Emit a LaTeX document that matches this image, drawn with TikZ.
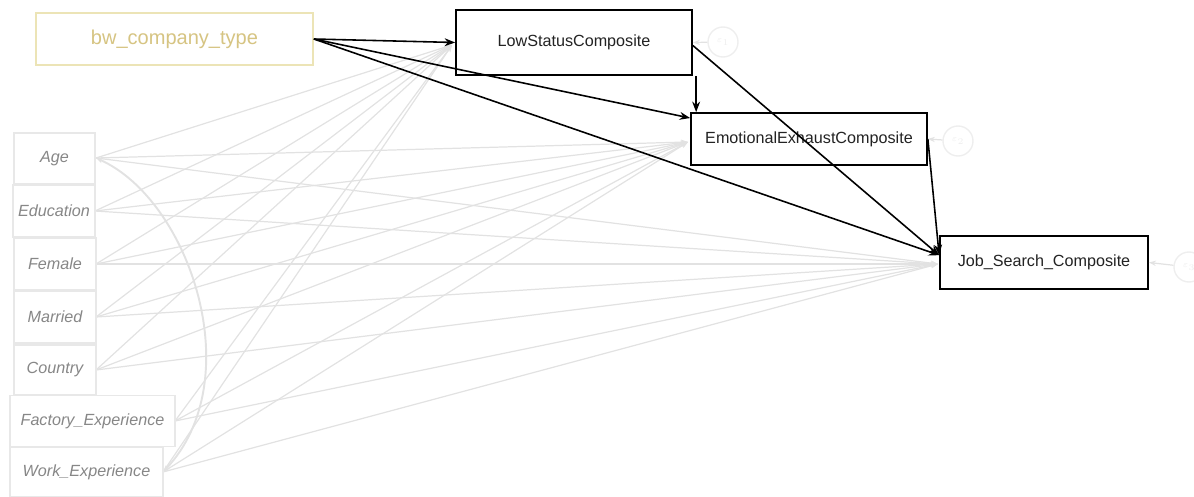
\documentclass[tikz,border=0pt]{standalone}
\usepackage{fontspec}
\setmainfont{Liberation Sans}
\usetikzlibrary{arrows.meta,calc}
\definecolor{pathgrey}{RGB}{226,226,226}
\definecolor{boxgrey}{RGB}{232,232,232}
\definecolor{txtgrey}{RGB}{135,135,135}
\definecolor{goldline}{RGB}{236,228,182}
\definecolor{goldtxt}{RGB}{214,196,130}
\definecolor{errgrey}{RGB}{238,238,238}
\tikzset{
  exobox/.style={draw=boxgrey, line width=0.6pt, fill=white, font=\fontsize{9.2}{10}\selectfont\itshape, text=txtgrey, inner sep=0pt},
  endobox/.style={draw=black, line width=1pt, fill=white, font=\fontsize{9.2}{10}\selectfont, text={rgb,255:red,35;green,35;blue,35}, inner sep=0pt},
  treatbox/.style={draw=goldline, line width=1pt, fill=white, font=\fontsize{11.4}{13}\selectfont, text=goldtxt, inner sep=0pt},
  errcirc/.style={circle, draw=errgrey, line width=0.8pt, minimum size=0.6cm, inner sep=0pt, font=\fontsize{4}{5}\selectfont, text=errgrey},
  greypath/.style={draw=pathgrey, line width=0.7pt, -{Stealth[length=4pt,width=3pt]}},
  blackpath/.style={draw=black, line width=0.9pt, -{Stealth[length=6pt,width=4.5pt]}},
}
\begin{document}
\begin{tikzpicture}[x=0.02cm,y=-0.02cm]
\useasboundingbox (0,0) rectangle (1194,497);
% error circles
\node[errcirc] (e1) at (723,42) {$\varepsilon_1$};
\node[errcirc] (e2) at (958,141) {$\varepsilon_2$};
\node[errcirc] (e3) at (1189,267) {$\varepsilon_3$};
% grey paths (drawn first)
\coordinate (lowin) at (452,45);
\coordinate (emoin) at (688,142);
\coordinate (jobin) at (938,264);
\foreach \n/\x/\y in {age/96/158, edu/95/211, fem/96/264, mar/96/317, cou/96/370, fac/175/421, work/163/472}{
  \coordinate (\n out) at (\x,\y);
}
\foreach \n in {age,edu,fem,mar,cou,fac,work}{
  \draw[greypath] (\n out) -- (lowin);
  \draw[greypath] (\n out) -- (emoin);
  \draw[greypath] (\n out) -- (jobin);
}
% covariance arc
\draw[draw=pathgrey, line width=1.1pt, {Stealth[length=4pt,width=3pt]}-{Stealth[length=4pt,width=3pt]}] (ageout) .. controls (190,200) and (250,380) .. (workout);
% nodes
\node[treatbox, minimum width=5.54cm, minimum height=1.04cm] (bw) at (174.5,39) {bw\_company\_type};
\node[endobox, minimum width=4.72cm, minimum height=1.3cm] (low) at (574,42.5) {LowStatusComposite};
\node[endobox, minimum width=4.72cm, minimum height=1.04cm] (emo) at (809,139) {EmotionalExhaustComposite};
\node[endobox, minimum width=4.16cm, minimum height=1.06cm] (job) at (1044,262.5) {Job\_Search\_Composite};
\node[exobox, minimum width=1.62cm, minimum height=1.02cm] (age) at (54.5,158.5) {Age};
\node[exobox, minimum width=1.64cm, minimum height=1.04cm] (edu) at (54,211) {Education};
\node[exobox, minimum width=1.64cm, minimum height=1.04cm] (fem) at (55,264) {Female};
\node[exobox, minimum width=1.64cm, minimum height=1.04cm] (mar) at (55,317) {Married};
\node[exobox, minimum width=1.64cm, minimum height=1.0cm] (cou) at (55,370) {Country};
\node[exobox, minimum width=3.3cm, minimum height=1.02cm] (fac) at (92.5,421) {Factory\_Experience};
\node[exobox, minimum width=3.06cm, minimum height=1.0cm] (work) at (86.5,472) {Work\_Experience};
% error arrows
\draw[greypath] (e1) -- (low.east);
\draw[greypath] (e2) -- (emo.east);
\draw[greypath] (e3) -- (job.east);
% black paths
\draw[blackpath] (bw.east) -- (low.west);
\draw[blackpath] (bw.east) -- (emo.170);
\draw[blackpath] (bw.east) -- (job.176);
\draw[blackpath] ([xshift=0.12cm]emo.north west |- low.south) -- ([xshift=0.12cm]emo.north west);
\draw[blackpath] ([yshift=-0.06cm]low.east) -- (job.176);
\draw[blackpath] (emo.east) -- (job.176);
\end{tikzpicture}
\end{document}
